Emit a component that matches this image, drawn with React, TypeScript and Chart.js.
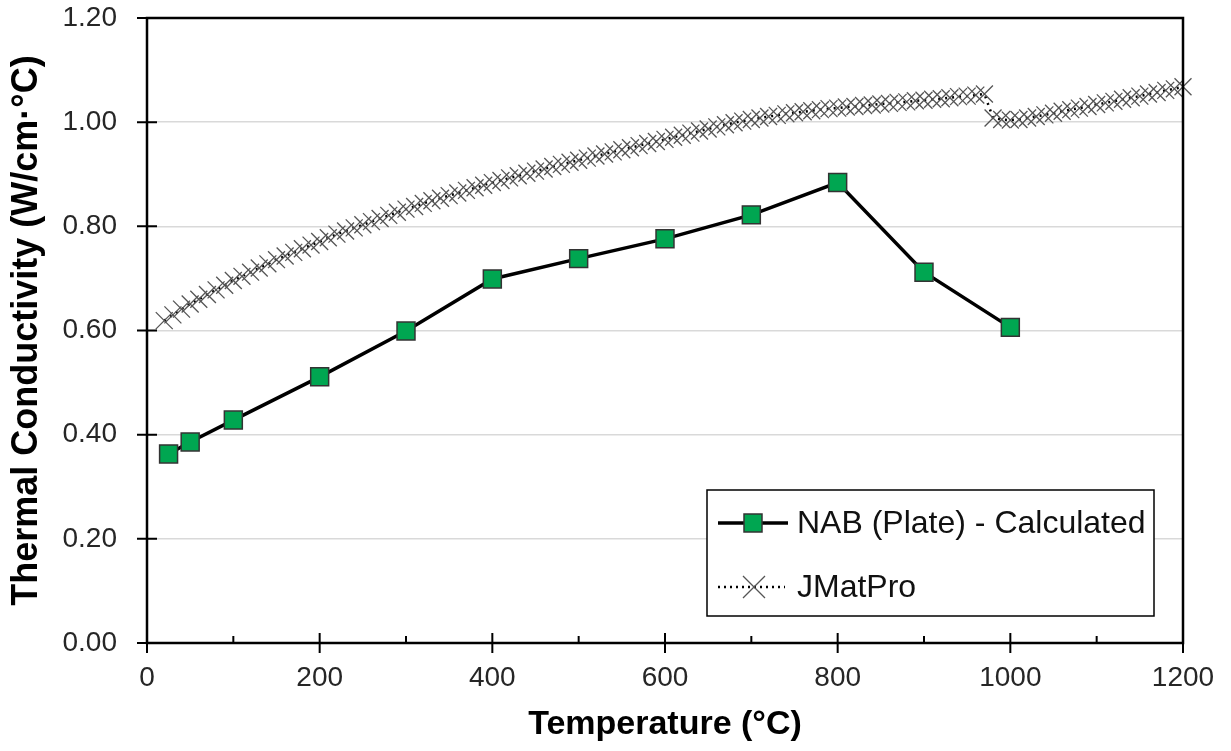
import React, { useEffect, useRef } from 'react';
import { Chart, registerables } from 'chart.js';

Chart.register(...registerables);

// ---- Data ----
const nabTemps = [25, 50, 100, 200, 300, 400, 500, 600, 700, 800, 900, 1000];
const nabValues = [0.363, 0.386, 0.428, 0.511, 0.599, 0.699, 0.738, 0.776, 0.822, 0.884, 0.712, 0.606];

const jmatTemps = [
  20, 30, 40, 50, 60, 70, 80, 90, 100, 110, 120, 130, 140, 150, 160, 170, 180, 190, 200,
  210, 220, 230, 240, 250, 260, 270, 280, 290, 300, 310, 320, 330, 340, 350, 360, 370, 380, 390, 400,
  410, 420, 430, 440, 450, 460, 470, 480, 490, 500, 510, 520, 530, 540, 550, 560, 570, 580, 590, 600,
  610, 620, 630, 640, 650, 660, 670, 680, 690, 700, 710, 720, 730, 740, 750, 760, 770, 780, 790, 800,
  810, 820, 830, 840, 850, 860, 870, 880, 890, 900, 910, 920, 930, 940, 950, 960, 970, 980, 990, 1000,
  1010, 1020, 1030, 1040, 1050, 1060, 1070, 1080, 1090, 1100, 1110, 1120, 1130, 1140, 1150, 1160, 1170, 1180, 1190, 1200,
];
const jmatValues = [
  0.619, 0.630, 0.641, 0.651, 0.660, 0.669, 0.678, 0.687, 0.696, 0.704, 0.712, 0.720, 0.728, 0.736, 0.743, 0.750, 0.757, 0.764, 0.771,
  0.778, 0.785, 0.791, 0.797, 0.803, 0.809, 0.815, 0.821, 0.827, 0.833, 0.838, 0.844, 0.849, 0.854, 0.859, 0.864, 0.869, 0.874, 0.879, 0.884,
  0.888, 0.893, 0.897, 0.902, 0.906, 0.910, 0.915, 0.919, 0.923, 0.927, 0.931, 0.935, 0.939, 0.943, 0.947, 0.951, 0.955, 0.959, 0.963, 0.967,
  0.971, 0.975, 0.979, 0.983, 0.987, 0.991, 0.995, 0.999, 1.002, 1.005, 1.008, 1.011, 1.013, 1.016, 1.018, 1.020, 1.022, 1.024, 1.026, 1.027,
  1.029, 1.030, 1.032, 1.033, 1.035, 1.036, 1.038, 1.039, 1.041, 1.042, 1.044, 1.045, 1.047, 1.049, 1.050, 1.052, 1.054, 1.008, 1.005, 1.004,
  1.005, 1.008, 1.011, 1.014, 1.017, 1.021, 1.024, 1.027, 1.030, 1.034, 1.037, 1.040, 1.044, 1.047, 1.050, 1.054, 1.057, 1.061, 1.064, 1.068,
];

const seriesLabels = ['NAB (Plate) - Calculated', 'JMatPro'];
const xAxisTitle = 'Temperature (°C)';
const yAxisTitle = 'Thermal Conductivity (W/cm·°C)';

const GREEN = '#00A651';
const CROSS_GRAY = '#555555';
const FONT = 'Arial, "Liberation Sans", sans-serif';

// frame + crossing ticks
const framePlugin = {
  id: 'frameTicks',
  afterDatasetsDraw(chart: any) {
    const { ctx, chartArea } = chart;
    const xs = chart.scales.x;
    const ys = chart.scales.y;
    ctx.save();
    ctx.strokeStyle = '#000';
    ctx.lineWidth = 2.5;
    ctx.beginPath();
    ctx.rect(chartArea.left, chartArea.top, chartArea.right - chartArea.left, chartArea.bottom - chartArea.top);
    ctx.stroke();
    ctx.lineWidth = 2;
    ctx.beginPath();
    ys.ticks.forEach((t: any) => {
      const p = ys.getPixelForValue(t.value);
      ctx.moveTo(chartArea.left - 10, p);
      ctx.lineTo(chartArea.left + 10, p);
    });
    xs.ticks.forEach((t: any, i: number) => {
      const p = xs.getPixelForValue(t.value);
      ctx.moveTo(p, chartArea.bottom - 10);
      ctx.lineTo(p, chartArea.bottom + 10);
      if (i < xs.ticks.length - 1) {
        const m = xs.getPixelForValue((t.value + xs.ticks[i + 1].value) / 2);
        ctx.moveTo(m, chartArea.bottom - 7);
        ctx.lineTo(m, chartArea.bottom);
      }
    });
    ctx.stroke();
    ctx.restore();
  },
};

const legendPlugin = {
  id: 'insideLegend',
  afterDraw(chart: any) {
    const { ctx, chartArea } = chart;
    const left = chartArea.right - 476;
    const top = chartArea.bottom - 153;
    const w = 447;
    const h = 126;
    ctx.save();
    ctx.fillStyle = '#fff';
    ctx.fillRect(left, top, w, h);
    ctx.strokeStyle = '#000';
    ctx.lineWidth = 1.5;
    ctx.strokeRect(left, top, w, h);

    const ds = chart.data.datasets;
    // row 1
    let cy = top + 33;
    ctx.strokeStyle = '#000';
    ctx.lineWidth = 3.5;
    ctx.beginPath();
    ctx.moveTo(left + 11, cy);
    ctx.lineTo(left + 81, cy);
    ctx.stroke();
    ctx.fillStyle = GREEN;
    ctx.fillRect(left + 46 - 9, cy - 9, 18, 18);
    ctx.strokeStyle = '#333';
    ctx.lineWidth = 1.5;
    ctx.strokeRect(left + 46 - 9, cy - 9, 18, 18);
    ctx.fillStyle = '#111';
    ctx.font = `32px ${FONT}`;
    ctx.textBaseline = 'middle';
    ctx.textAlign = 'left';
    ctx.fillText(ds[0].label, left + 90, cy + 1);

    // row 2
    cy = top + 97;
    ctx.strokeStyle = '#000';
    ctx.lineWidth = 2.5;
    ctx.setLineDash([2, 4]);
    ctx.beginPath();
    ctx.moveTo(left + 11, cy);
    ctx.lineTo(left + 78, cy);
    ctx.stroke();
    ctx.setLineDash([]);
    ctx.strokeStyle = CROSS_GRAY;
    ctx.lineWidth = 1.3;
    ctx.beginPath();
    ctx.moveTo(left + 47 - 11, cy - 11);
    ctx.lineTo(left + 47 + 11, cy + 11);
    ctx.moveTo(left + 47 - 11, cy + 11);
    ctx.lineTo(left + 47 + 11, cy - 11);
    ctx.stroke();
    ctx.fillStyle = '#111';
    ctx.fillText(ds[1].label, left + 90, cy + 1);
    ctx.restore();
  },
};

const zeroPad = (s: any) => {
  s.paddingTop = 0;
  s.paddingBottom = 0;
  s.paddingLeft = 0;
  s.paddingRight = 0;
};

export default function App() {
  const ref = useRef<HTMLCanvasElement | null>(null);

  useEffect(() => {
    if (!ref.current) return;
    const chart = new Chart(ref.current, {
      type: 'line',
      data: {
        datasets: [
          {
            label: seriesLabels[0],
            data: nabTemps.map((t, i) => ({ x: t, y: nabValues[i] })),
            borderColor: '#000',
            borderWidth: 3.5,
            pointStyle: 'rect',
            pointRadius: 12.7,
            pointBackgroundColor: GREEN,
            pointBorderColor: '#333',
            pointBorderWidth: 1.5,
            tension: 0,
            clip: false,
            order: 1,
          },
          {
            label: seriesLabels[1],
            data: jmatTemps.map((t, i) => ({ x: t, y: jmatValues[i] })),
            borderColor: '#000',
            borderWidth: 2.5,
            borderDash: [2, 5],
            pointStyle: 'crossRot',
            pointRadius: 12,
            pointBorderColor: CROSS_GRAY,
            pointBorderWidth: 1.3,
            tension: 0,
            clip: false,
            order: 2,
          },
        ],
      },
      options: {
        animation: false,
        responsive: false,
        devicePixelRatio: 1,
        layout: { padding: { top: 18, right: 48, left: 0, bottom: 0 } },
        plugins: {
          legend: { display: false },
          tooltip: { enabled: false },
        },
        scales: {
          x: {
            type: 'linear',
            min: 0,
            max: 1200,
            afterFit: (s: any) => {
              s.height = 108;
              zeroPad(s);
            },
            ticks: {
              stepSize: 200,
              padding: 18,
              color: '#262626',
              font: { family: FONT, size: 28 },
              maxRotation: 0,
              callback: (v: any) => String(v),
            },
            grid: { display: false, drawTicks: false },
            border: { display: false },
            title: {
              display: true,
              text: xAxisTitle,
              color: '#000',
              font: { family: FONT, size: 34, weight: 'bold', lineHeight: 1 },
              padding: { top: 0, bottom: 9 },
            },
          },
          y: {
            type: 'linear',
            min: 0,
            max: 1.2,
            afterFit: (s: any) => {
              s.width = 147;
              zeroPad(s);
            },
            ticks: {
              stepSize: 0.2,
              padding: 30,
              color: '#262626',
              font: { family: FONT, size: 28 },
              callback: (v: any) => Number(v).toFixed(2),
            },
            grid: { color: '#d9d9d9', lineWidth: 1.5, drawTicks: false },
            border: { display: false },
            title: {
              display: true,
              text: yAxisTitle,
              color: '#000',
              font: { family: FONT, size: 36, weight: 'bold', lineHeight: 1 },
              padding: { top: 9, bottom: 0 },
            },
          },
        },
      },
      plugins: [framePlugin, legendPlugin],
    });
    return () => chart.destroy();
  }, []);

  return (
    <div style={{ position: 'fixed', left: 0, top: 0, width: 1231, height: 751, background: '#fff' }}>
      <canvas ref={ref} width={1231} height={751} style={{ display: 'block' }} />
    </div>
  );
}
